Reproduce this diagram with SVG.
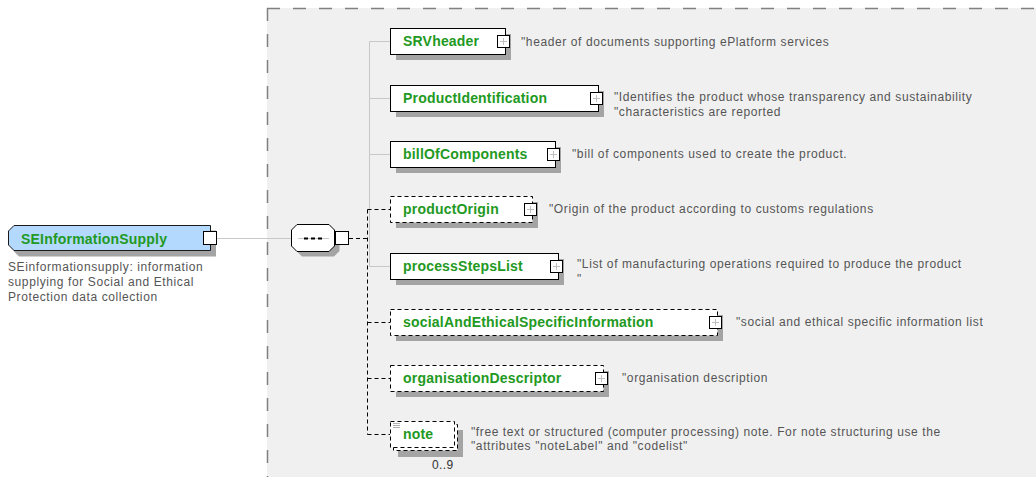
<svg xmlns="http://www.w3.org/2000/svg" xmlns:xlink="http://www.w3.org/1999/xlink" width="1036" height="477" viewBox="0 0 1036 477">
<defs>
<style>
.lbl{font-family:"Liberation Sans",Arial,sans-serif;font-size:14px;font-weight:bold;fill:#229922;letter-spacing:0.2px}
.desc{font-family:"Liberation Sans",Arial,sans-serif;font-size:12px;fill:#555;letter-spacing:0.6px}
.occ{font-family:"Liberation Sans",Arial,sans-serif;font-size:12px;fill:#333;letter-spacing:0.4px}
.shadow{fill:#a4a4a4}
.box{fill:#fff;stroke:#000;stroke-width:1}
.opt{fill:#fff;stroke:#000;stroke-width:1;stroke-dasharray:4 3}
.exp{fill:#fff;stroke:#000;stroke-width:1}
.plus{stroke:#c0c0c0;stroke-width:1;fill:none}
.conn{stroke:#c8c8c8;stroke-width:1;fill:none}
.dconn{stroke:#000;stroke-width:1;stroke-dasharray:4 3;fill:none}
.frame{stroke:#808080;stroke-width:1.5;stroke-dasharray:13 13;fill:none}
</style>
<g id="plusbox"><rect x="0.5" y="0.5" width="12" height="12" class="exp"/><path d="M3,6.5H10M6.5,3V10" class="plus"/></g>
<g id="emptybox"><rect x="0.5" y="0.5" width="13" height="13" class="exp"/></g>
</defs>
<rect x="0" y="0" width="1036" height="477" fill="#fff"/>
<g id="sequence-frame">
<rect x="267" y="8" width="769" height="469" fill="#f0f0f0"/>
<path d="M267,8.5H1036" class="frame"/>
<path d="M267.5,8V477" class="frame"/>
</g>
<g id="connectors">
<path d="M216,238.5H291" class="conn"/>
<path d="M349,238.5H368" class="dconn"/>
<path d="M369.5,41.5V266.5M369.5,41.5H390M369.5,98.5H390M369.5,154.5H390M369.5,266.5H390" class="conn"/>
<path d="M367.5,209.5V434.5" class="dconn"/>
<path d="M367.5,209.5H390M367.5,322.5H390M367.5,378.5H390M367.5,434.5H390" class="dconn"/>
</g>
<g id="SEInformationSupply">
<path d="M19,230.5H216V256.5H19L13.5,251V236Z" class="shadow"/>
<path d="M14,225.5H210.5V250.5H14L8.5,245V231Z" fill="#b3d9ff" stroke="#1a1a1a" stroke-width="1"/>
<use xlink:href="#emptybox" x="203" y="231"/>
<text x="21" y="244" class="lbl">SEInformationSupply</text>
<text x="8" y="271" class="desc">SEinformationsupply: information</text>
<text x="8" y="286" class="desc">supplying for Social and Ethical</text>
<text x="8" y="301" class="desc">Protection data collection</text>
</g>
<g id="sequence">
<path d="M302,229.5H334L339.5,235V251L334,256.5H302L296.5,251V235Z" class="shadow"/>
<path d="M297,224.5H329L334.5,230V246L329,251.5H297L291.5,246V230Z" class="box"/>
<path d="M298,238.5H329" class="conn"/>
<path d="M304,238.5H308M311,238.5H315M318,238.5H322" stroke="#000" stroke-width="2"/>
<use xlink:href="#emptybox" x="335" y="231"/>
</g>
<g id="SRVheader">
<rect x="396" y="34" width="115" height="26" class="shadow"/>
<rect x="390.5" y="28.5" width="115" height="26" class="box"/>
<use xlink:href="#plusbox" x="497" y="35"/>
<text x="403" y="46" class="lbl">SRVheader</text>
<text x="521" y="46" class="desc">"header of documents supporting ePlatform services</text>
</g>
<g id="ProductIdentification">
<rect x="396" y="91" width="208" height="26" class="shadow"/>
<rect x="390.5" y="85.5" width="208" height="26" class="box"/>
<use xlink:href="#plusbox" x="590" y="92"/>
<text x="403" y="103" class="lbl">ProductIdentification</text>
<text x="614" y="101" class="desc">"Identifies the product whose transparency and sustainability</text>
<text x="614" y="116" class="desc">"characteristics are reported</text>
</g>
<g id="billOfComponents">
<rect x="396" y="147" width="165" height="26" class="shadow"/>
<rect x="390.5" y="141.5" width="165" height="26" class="box"/>
<use xlink:href="#plusbox" x="547" y="148"/>
<text x="403" y="159" class="lbl">billOfComponents</text>
<text x="572" y="158" class="desc">"bill of components used to create the product.</text>
</g>
<g id="productOrigin">
<rect x="396" y="202" width="142" height="26" class="shadow"/>
<rect x="390.5" y="196.5" width="142" height="26" class="opt"/>
<use xlink:href="#plusbox" x="524" y="203"/>
<text x="403" y="214" class="lbl">productOrigin</text>
<text x="549" y="213" class="desc">"Origin of the product according to customs regulations</text>
</g>
<g id="processStepsList">
<rect x="396" y="259" width="168" height="26" class="shadow"/>
<rect x="390.5" y="253.5" width="168" height="26" class="box"/>
<use xlink:href="#plusbox" x="550" y="260"/>
<text x="403" y="271" class="lbl">processStepsList</text>
<text x="577" y="268" class="desc">"List of manufacturing operations required to produce the product</text>
<text x="577" y="283" class="desc">"</text>
</g>
<g id="socialAndEthicalSpecificInformation">
<rect x="396" y="315" width="327" height="26" class="shadow"/>
<rect x="390.5" y="309.5" width="327" height="26" class="opt"/>
<use xlink:href="#plusbox" x="709" y="316"/>
<text x="403" y="327" class="lbl">socialAndEthicalSpecificInformation</text>
<text x="736" y="326" class="desc">"social and ethical specific information list</text>
</g>
<g id="organisationDescriptor">
<rect x="396" y="371" width="213" height="26" class="shadow"/>
<rect x="390.5" y="365.5" width="213" height="26" class="opt"/>
<use xlink:href="#plusbox" x="595" y="372"/>
<text x="403" y="383" class="lbl">organisationDescriptor</text>
<text x="622" y="382" class="desc">"organisation description</text>
</g>
<g id="note">
<rect x="398" y="430" width="65" height="27" class="shadow"/>
<rect x="393.5" y="424.5" width="64" height="26" class="opt"/>
<rect x="390.5" y="421.5" width="64" height="26" class="opt"/>
<path d="M393,423.5H400M393,425.5H400M393,427.5H400" stroke="#b0b0b0" stroke-width="1"/>
<text x="403" y="439" class="lbl">note</text>
<text x="471" y="436" class="desc">"free text or structured (computer processing) note. For note structuring use the</text>
<text x="471" y="450" class="desc">"attributes "noteLabel" and "codelist"</text>
<text x="432" y="469" class="occ">0..9</text>
</g>
</svg>
